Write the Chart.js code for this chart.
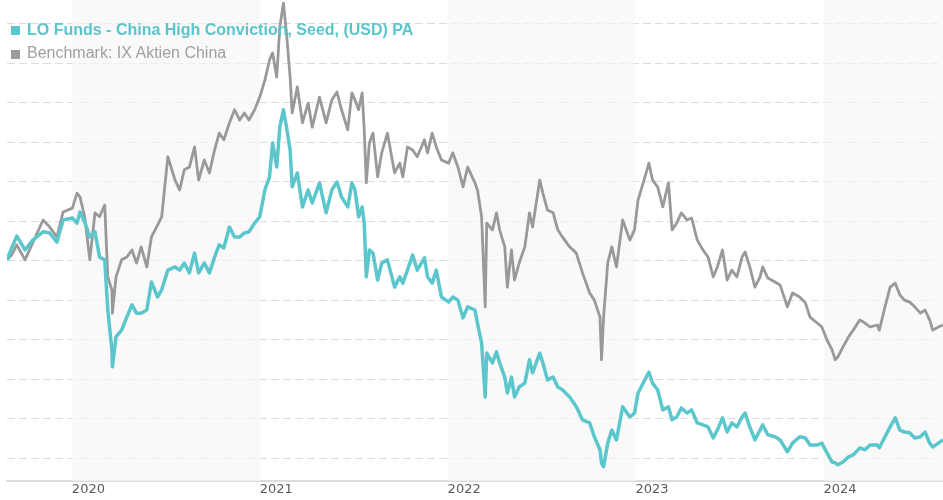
<!DOCTYPE html>
<html>
<head>
<meta charset="utf-8">
<script src="https://cdn.jsdelivr.net/npm/chart.js@4.4.1/dist/chart.umd.min.js"></script>
<style>
  html, body { margin: 0; padding: 0; background: #ffffff; }
  #wrap { position: relative; width: 943px; height: 500px; overflow: hidden; }
  #c { position: absolute; left: 0; top: 0; }
  .lg { position: absolute; left: 27px; font-family: "Liberation Sans", Arial, sans-serif; font-size: 16px; line-height: 18px; white-space: nowrap; }
  .sq { position: absolute; left: 11px; width: 9px; height: 9px; }
</style>
</head>
<body>
<div id="wrap">
  <canvas id="c" width="943" height="500"></canvas>
  <span class="sq" id="sq1" style="top:26px;background:#5bc7cd;"></span>
  <div class="lg" id="lg1" style="top:21px;color:#5bc5cc;font-weight:bold;"></div>
  <span class="sq" id="sq2" style="top:50px;background:#9b9b9b;"></span>
  <div class="lg" id="lg2" style="top:44px;color:#a0a0a0;"></div>
</div>
<script>
const seriesNames = ["LO Funds - China High Conviction, Seed, (USD) PA", "Benchmark: IX Aktien China"];

const dates = [
  "2019-08-28","2019-09-06","2019-09-16","2019-10-02","2019-10-17","2019-11-06","2019-11-19","2019-12-03","2019-12-15",
  "2020-01-02","2020-01-11","2020-01-17","2020-01-26","2020-02-05","2020-02-15","2020-02-24","2020-03-05","2020-03-11",
  "2020-03-19","2020-03-20","2020-03-27","2020-04-07","2020-04-17","2020-04-27","2020-05-06","2020-05-15","2020-05-26",
  "2020-06-04","2020-06-16","2020-06-24","2020-07-06","2020-07-20","2020-07-29","2020-08-07","2020-08-17","2020-08-27",
  "2020-09-04","2020-09-15","2020-09-25","2020-10-05","2020-10-14","2020-10-23","2020-11-03","2020-11-13","2020-11-23",
  "2020-12-02","2020-12-11","2020-12-22",
  "2021-01-01","2021-01-11","2021-01-20","2021-01-26","2021-02-03","2021-02-09","2021-02-16","2021-02-22","2021-03-01",
  "2021-03-05","2021-03-15","2021-03-25","2021-04-05","2021-04-13","2021-04-27","2021-05-10","2021-05-21","2021-05-31",
  "2021-06-09","2021-06-21","2021-06-29","2021-07-05","2021-07-12","2021-07-19","2021-07-23","2021-07-27","2021-08-02",
  "2021-08-09","2021-08-18","2021-08-26","2021-09-06","2021-09-20","2021-09-30","2021-10-06","2021-10-15","2021-10-25",
  "2021-11-03","2021-11-17","2021-11-23","2021-12-02","2021-12-10","2021-12-20",
  "2022-01-03","2022-01-11","2022-01-21","2022-01-31","2022-02-09","2022-02-23","2022-02-28","2022-03-08","2022-03-15",
  "2022-03-18","2022-03-29","2022-04-06","2022-04-12","2022-04-22","2022-04-27","2022-05-05","2022-05-11","2022-05-20",
  "2022-05-31","2022-06-09","2022-06-15","2022-06-29","2022-07-05","2022-07-14","2022-07-25","2022-08-03","2022-08-12",
  "2022-08-26","2022-09-08","2022-09-20","2022-10-04","2022-10-13","2022-10-24","2022-10-27","2022-10-31","2022-11-08",
  "2022-11-16","2022-11-25","2022-12-07","2022-12-21","2022-12-30",
  "2023-01-06","2023-01-16","2023-01-27","2023-02-03","2023-02-13","2023-02-23","2023-03-06","2023-03-13","2023-03-22",
  "2023-03-31","2023-04-11","2023-04-20","2023-05-01","2023-05-12","2023-05-22","2023-06-01","2023-06-09","2023-06-19",
  "2023-06-28","2023-07-07","2023-07-17","2023-07-27","2023-08-02","2023-08-11","2023-08-21","2023-08-31","2023-09-05",
  "2023-09-15","2023-09-29","2023-10-09","2023-10-23","2023-11-02","2023-11-16","2023-11-27","2023-12-06","2023-12-20",
  "2023-12-29",
  "2024-01-08","2024-01-18","2024-01-24","2024-01-29","2024-02-08","2024-02-19","2024-02-28","2024-03-12","2024-03-22",
  "2024-04-01","2024-04-15","2024-04-19","2024-04-30","2024-05-10","2024-05-20","2024-05-29","2024-06-07","2024-06-17",
  "2024-06-27","2024-07-08","2024-07-17","2024-07-26","2024-08-01","2024-08-12","2024-08-21"
];

const fundValues = [
  100.2,103.2,106.2,102.7,105.2,107.3,107.0,104.7,110.3,
  110.8,109.5,112.3,109.8,106.0,107.3,100.9,100.2,87.5,
  77.4,73.1,80.7,82.4,85.7,88.8,86.7,86.7,87.5,
  94.6,90.8,92.6,97.6,98.4,97.6,99.4,96.9,101.9,
  96.9,99.4,96.9,100.9,104.0,103.2,108.5,106.0,106.0,
  107.0,107.3,109.5,
  111.1,117.9,121.2,129.8,123.7,133.8,138.2,133.8,128.0,
  118.7,122.2,113.6,117.9,114.6,119.7,112.1,117.9,119.9,
  116.1,113.6,119.7,117.9,111.1,113.6,109.5,95.9,102.7,
  101.9,95.1,99.4,100.2,93.3,95.9,94.3,97.6,101.4,
  97.6,100.7,95.9,94.3,97.6,90.8,
  89.5,90.8,90.0,85.5,88.3,87.5,84.2,79.2,65.5,
  76.6,74.1,76.9,74.1,70.5,66.5,70.5,65.5,68.0,
  69.0,74.9,71.6,76.6,74.1,69.8,70.5,68.0,67.3,
  65.5,63.0,59.7,58.9,55.4,52.1,48.8,47.8,53.8,
  57.1,54.6,63.0,60.4,61.4,
  66.5,69.0,71.8,69.0,67.3,62.2,63.0,59.7,60.4,
  62.7,61.4,62.2,58.9,58.4,57.9,55.1,57.1,60.2,
  56.6,58.9,57.9,60.4,61.4,57.9,54.6,57.1,58.4,
  55.9,55.4,54.6,51.6,53.8,55.4,55.1,53.3,53.3,
  53.8,
  51.3,49.0,48.8,48.3,49.0,50.3,50.8,52.6,52.1,
  53.3,53.3,52.6,55.4,57.9,60.2,57.1,56.6,56.4,
  55.1,55.4,56.6,53.8,52.8,53.8,54.6
];

const benchmarkValues = [
  100.2,101.4,104.0,100.2,104.5,110.3,108.5,106.0,112.3,
  113.3,117.1,116.1,111.1,100.2,112.1,111.1,114.1,95.9,
  92.6,86.7,95.9,100.2,100.9,102.7,99.4,103.5,98.4,
  106.0,109.0,111.1,126.3,120.4,117.9,123.0,123.7,128.8,
  120.4,125.5,122.2,128.0,132.3,130.6,134.9,138.2,135.6,
  137.4,135.6,138.2,
  141.4,145.7,150.8,152.6,146.5,159.2,165.2,157.6,146.5,
  137.4,144.0,134.9,139.9,133.8,141.4,134.9,140.7,142.7,
  138.2,133.1,142.5,140.7,138.2,142.5,133.1,119.7,129.8,
  132.3,121.2,127.3,132.3,122.2,124.7,121.2,128.8,128.0,
  126.3,130.6,127.3,132.3,128.8,125.5,
  124.7,127.3,123.7,118.7,123.7,119.7,117.9,111.1,88.3,
  109.5,107.8,112.1,107.8,103.5,93.3,102.7,95.1,99.4,
  103.5,112.1,108.5,120.4,117.1,112.8,112.1,107.8,106.0,
  103.5,101.9,96.9,91.8,90.0,85.7,74.9,85.7,99.4,
  103.5,98.4,110.3,105.2,107.8,
  115.4,119.7,124.7,120.4,118.7,113.6,119.7,107.8,109.5,
  112.1,110.3,110.8,105.2,102.7,100.9,95.9,98.4,102.7,
  95.1,97.6,95.9,100.9,102.2,98.4,93.3,95.9,98.4,
  95.6,94.6,93.8,88.3,91.8,90.8,89.3,85.7,84.2,
  83.2,
  79.9,77.4,74.9,75.6,78.1,80.7,82.4,85.0,84.2,
  83.2,83.7,82.4,88.3,93.3,94.3,91.3,90.0,89.5,
  88.3,86.7,87.5,85.0,82.4,83.2,83.7
];

const yearTicks = [2020, 2021, 2022, 2023, 2024];
const shadedYears = [[2020, 2021], [2022, 2023], [2024, 2025]];

function decYear(s) {
  const [y, m, d] = s.split('-').map(Number);
  const t = Date.UTC(y, m - 1, d), a = Date.UTC(y, 0, 1), b = Date.UTC(y + 1, 0, 1);
  return y + (t - a) / (b - a);
}
const xs = dates.map(decYear);
const fundPts = xs.map((x, i) => ({ x, y: fundValues[i] }));
const benchPts = xs.map((x, i) => ({ x, y: benchmarkValues[i] }));

document.getElementById('lg1').textContent = seriesNames[0];
document.getElementById('lg2').textContent = seriesNames[1];

const bandPlugin = {
  id: 'bands',
  beforeDatasetsDraw(chart) {
    const { ctx, chartArea, scales } = chart;
    ctx.save();
    ctx.fillStyle = 'rgba(246,246,246,0.65)';
    shadedYears.forEach(([a, b]) => {
      const x1 = Math.max(chartArea.left, scales.x.getPixelForValue(a));
      const x2 = Math.min(chartArea.right, scales.x.getPixelForValue(b));
      if (x2 > x1) ctx.fillRect(x1, chartArea.top, x2 - x1, chartArea.bottom - chartArea.top);
    });
    ctx.restore();
  }
};

new Chart(document.getElementById('c'), {
  type: 'line',
  data: {
    datasets: [
      { label: seriesNames[0], data: fundPts, borderColor: '#5bc7cd', borderWidth: 3.5, pointRadius: 0, tension: 0, borderJoinStyle: 'round', fill: false },
      { label: seriesNames[1], data: benchPts, borderColor: '#999999', borderWidth: 2.8, pointRadius: 0, tension: 0, borderJoinStyle: 'round', fill: false }
    ]
  },
  options: {
    responsive: false,
    animation: false,
    devicePixelRatio: 1,
    layout: { padding: 0 },
    plugins: { legend: { display: false }, tooltip: { enabled: false }, title: { display: false } },
    scales: {
      x: {
        type: 'linear',
        min: xs[0],
        max: xs[xs.length - 1],
        afterBuildTicks: (s) => { s.ticks = yearTicks.map(v => ({ value: v })); },
        afterFit: (s) => { s.height = 19; },
        grid: { display: false, drawTicks: false },
        border: { display: true, color: '#dcdcdc', width: 2 },
        ticks: {
          align: 'start', padding: 1, maxRotation: 0, autoSkip: false,
          color: '#5a5a5a', font: { family: 'DejaVu Sans', size: 13 },
          callback: (v) => String(v)
        }
      },
      y: {
        type: 'linear',
        min: 44.2,
        max: 166.0,
        afterBuildTicks: (s) => { const t = []; for (let v = 50; v <= 160; v += 10) t.push({ value: v }); s.ticks = t; },
        afterFit: (s) => { s.width = 7; },
        ticks: { display: false },
        grid: { color: '#dcdcdc', lineWidth: 1, drawTicks: false },
        border: { display: false, dash: [8, 4] }
      }
    }
  },
  plugins: [bandPlugin]
});
</script>
</body>
</html>
